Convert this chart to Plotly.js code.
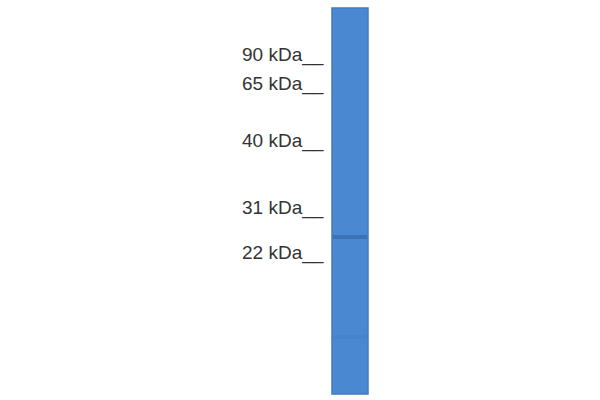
<!DOCTYPE html>
<html><head><meta charset="utf-8">
<script src="https://cdn.plot.ly/plotly-3.0.1.min.js"></script>
<style>html,body{margin:0;padding:0;background:#fff;}#chart{width:600px;height:400px;}</style>
</head><body><div id="chart"></div>
<script>
// Molecular-weight ladder (labels and migration distance on the gel)
var markerLabels = ['90 kDa', '65 kDa', '40 kDa', '31 kDa', '22 kDa'];
var markerMigration = [55, 84, 141, 208, 253];
// Sample lane
var laneNames = ['Lane 1'];
var laneStart = [8];
var laneEnd = [394];
// Detected bands in the lane (migration, relative intensity)
var bandMigration = [237, 337];
var bandIntensity = [0.4, 0.1];

var laneX = 350;
var traces = [];
traces.push({
  type: 'bar', x: [laneX], y: [laneEnd[0] - laneStart[0]], base: [laneStart[0]],
  width: [36], marker: {color: '#4a89d2', line: {color: '#4179bd', width: 1.5}},
  hoverinfo: 'skip', name: laneNames[0]
});
bandMigration.forEach(function (m, i) {
  traces.push({
    type: 'scatter', mode: 'lines', x: [laneX - 17, laneX + 17], y: [m, m],
    line: {color: 'rgba(40,80,140,' + bandIntensity[i] + ')', width: 4},
    hoverinfo: 'skip'
  });
});

var annotations = markerLabels.map(function (t, i) {
  return {
    x: 326, y: markerMigration[i], xref: 'x', yref: 'y', text: t + '__',
    showarrow: false, xanchor: 'right', yanchor: 'middle',
    font: {family: 'Liberation Sans, Arial, sans-serif', size: 19, color: '#333333'}
  };
});

Plotly.newPlot('chart', traces, {
  width: 600, height: 400, margin: {l: 0, r: 0, t: 0, b: 0},
  paper_bgcolor: '#ffffff', plot_bgcolor: '#ffffff', showlegend: false,
  xaxis: {range: [0, 600], visible: false, fixedrange: true},
  yaxis: {range: [400, 0], visible: false, fixedrange: true},
  annotations: annotations, bargap: 0
}, {staticPlot: true, displayModeBar: false});
</script></body></html>
